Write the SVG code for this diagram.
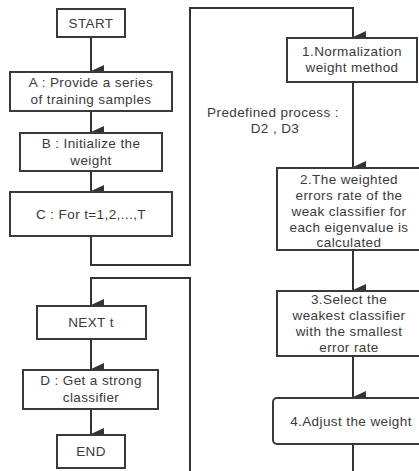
<svg xmlns="http://www.w3.org/2000/svg" width="419" height="471" viewBox="0 0 419 471">
<defs>
<style>
.box{fill:#fff;stroke:#3a3a3a;stroke-width:2}
.ln{fill:none;stroke:#333;stroke-width:2}
text{font-family:"Liberation Sans",Arial,sans-serif;font-size:13.5px;letter-spacing:0.4px;fill:#3a3a3a;text-anchor:middle}
</style>
<marker id="ah" markerUnits="userSpaceOnUse" markerWidth="12" markerHeight="14" viewBox="0 0 12 14" refX="6" refY="13" orient="auto">
<path d="M0,0 L12,0 L6,13 Z" fill="#333"/>
</marker>
</defs>
<rect width="419" height="471" fill="#fff"/>
<g id="connectors">
<line class="ln" x1="91" y1="37" x2="91" y2="71" marker-end="url(#ah)"/>
<line class="ln" x1="91" y1="111" x2="91" y2="132" marker-end="url(#ah)"/>
<line class="ln" x1="91" y1="171" x2="91" y2="191" marker-end="url(#ah)"/>
<polyline class="ln" points="91,236 91,265 190,265 190,8 353,8 353,37" marker-end="url(#ah)"/>
<line class="ln" x1="353" y1="82" x2="353" y2="167" marker-end="url(#ah)"/>
<line class="ln" x1="353" y1="250" x2="353" y2="290" marker-end="url(#ah)"/>
<line class="ln" x1="353" y1="356" x2="353" y2="397" marker-end="url(#ah)"/>
<line class="ln" x1="353" y1="444" x2="353" y2="471"/>
<polyline class="ln" points="190,471 190,278 91,278 91,305" marker-end="url(#ah)"/>
<line class="ln" x1="91" y1="339" x2="91" y2="369" marker-end="url(#ah)"/>
<line class="ln" x1="91" y1="409" x2="91" y2="434" marker-end="url(#ah)"/>
</g>
<g id="start"><rect class="box" x="57" y="9" width="68" height="28"/><text x="91" y="28">START</text></g>
<g id="a"><rect class="box" x="10" y="72" width="162" height="39"/><text x="91" y="87">A : Provide a series</text><text x="91" y="104">of training samples</text></g>
<g id="b"><rect class="box" x="20" y="133" width="142" height="38"/><text x="91" y="148">B : Initialize the</text><text x="91" y="165">weight</text></g>
<g id="c"><rect class="box" x="10" y="192" width="162" height="44"/><text x="91" y="219">C : For  t=1,2,...,T</text></g>
<g id="next"><rect class="box" x="37" y="306" width="109" height="33"/><text x="91" y="327">NEXT t</text></g>
<g id="d"><rect class="box" x="23" y="370" width="135" height="39"/><text x="91" y="385">D : Get a strong</text><text x="91" y="402">classifier</text></g>
<g id="end"><rect class="box" x="57" y="435" width="68" height="33"/><text x="91" y="456">END</text></g>
<g id="n1"><rect class="box" x="287" y="38" width="130" height="44"/><text x="352" y="56">1.Normalization</text><text x="352" y="72">weight method</text></g>
<g id="label"><text x="273" y="117">Predefined process :</text><text x="275" y="133">D2 , D3</text></g>
<g id="n2"><rect class="box" x="277" y="168" width="144" height="82"/><text x="349" y="184">2.The weighted</text><text x="349" y="200">errors rate of the</text><text x="349" y="216">weak classifier for</text><text x="349" y="232">each eigenvalue is</text><text x="349" y="247">calculated</text></g>
<g id="n3"><rect class="box" x="277" y="291" width="144" height="65"/><text x="349" y="304">3.Select the</text><text x="349" y="320">weakest classifier</text><text x="349" y="336">with the smallest</text><text x="349" y="352">error rate</text></g>
<g id="n4"><rect class="box" x="273" y="398" width="156" height="46" rx="4"/><text x="351" y="426">4.Adjust the weight</text></g>
</svg>
